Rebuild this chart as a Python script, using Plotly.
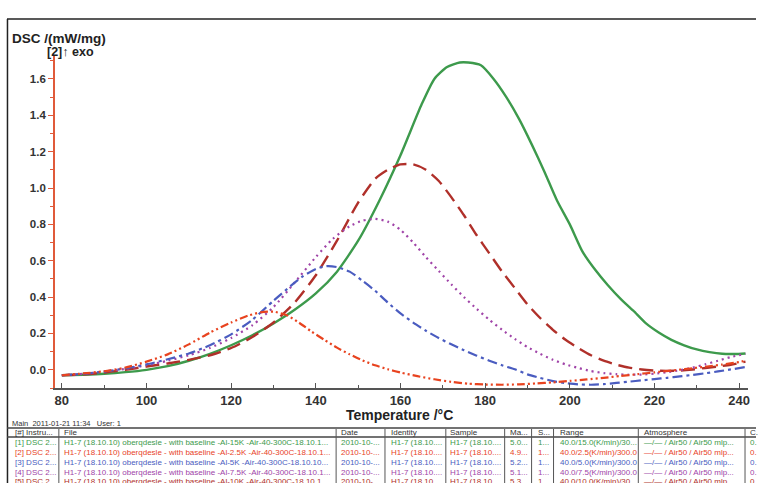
import plotly.graph_objects as go

# ---- data ----
t_15k = [80, 85, 90, 95, 100, 105, 110, 115, 120, 125, 130, 135, 140, 145, 150, 155, 160, 165, 168, 171, 174, 176, 179, 182, 185, 188, 191, 194, 197, 200, 203, 206, 209, 212, 215, 218, 221, 224, 227, 230, 233, 236, 239, 241.5]
v_15k = [-0.03, -0.027, -0.022, -0.013, 0.0, 0.02, 0.05, 0.088, 0.135, 0.19, 0.255, 0.33, 0.42, 0.54, 0.71, 0.93, 1.18, 1.46, 1.60, 1.665, 1.69, 1.69, 1.675, 1.60, 1.50, 1.38, 1.24, 1.09, 0.93, 0.80, 0.65, 0.55, 0.465, 0.39, 0.325, 0.255, 0.205, 0.165, 0.135, 0.112, 0.097, 0.088, 0.087, 0.09]

t_10k = [80, 85, 90, 95, 100, 105, 110, 115, 120, 125, 130, 135, 140, 145, 150, 154, 157, 160, 163, 166, 169, 172, 175, 178, 181, 184, 187, 190, 193, 196, 199, 202, 205, 208, 211, 214, 217, 220, 223, 226, 229, 232, 235, 238, 241.5]
v_10k = [-0.03, -0.025, -0.015, 0.0, 0.018, 0.035, 0.055, 0.08, 0.12, 0.18, 0.26, 0.37, 0.52, 0.71, 0.92, 1.05, 1.10, 1.13, 1.13, 1.10, 1.04, 0.95, 0.85, 0.74, 0.64, 0.54, 0.45, 0.36, 0.285, 0.22, 0.165, 0.12, 0.08, 0.05, 0.028, 0.012, 0.002, -0.004, -0.006, -0.004, 0.002, 0.01, 0.018, 0.028, 0.045]

t_75k = [80, 85, 90, 95, 100, 105, 110, 115, 120, 125, 130, 135, 140, 144, 148, 151, 154, 157, 160, 163, 166, 169, 172, 175, 178, 181, 184, 187, 190, 193, 196, 199, 202, 205, 208, 211, 214, 217, 220, 223, 226, 229, 232, 235, 238, 241.5]
v_75k = [-0.03, -0.022, -0.01, 0.005, 0.025, 0.05, 0.08, 0.12, 0.175, 0.245, 0.345, 0.48, 0.62, 0.72, 0.79, 0.82, 0.83, 0.815, 0.77, 0.70, 0.62, 0.545, 0.47, 0.40, 0.335, 0.275, 0.22, 0.17, 0.125, 0.088, 0.055, 0.03, 0.01, -0.007, -0.018, -0.024, -0.027, -0.026, -0.021, -0.013, -0.002, 0.012, 0.03, 0.05, 0.07, 0.088]

t_5k = [80, 85, 90, 95, 100, 105, 110, 115, 120, 125, 130, 134, 137, 140, 142.5, 145, 148, 151, 154, 157, 160, 163, 166, 169, 172, 175, 178, 181, 184, 187, 190, 193, 196, 199, 202, 205, 208, 211, 214, 217, 220, 223, 226, 229, 232, 235, 238, 241.5]
v_5k = [-0.03, -0.022, -0.01, 0.008, 0.03, 0.058, 0.09, 0.135, 0.195, 0.275, 0.38, 0.46, 0.515, 0.555, 0.57, 0.565, 0.54, 0.49, 0.435, 0.37, 0.31, 0.26, 0.215, 0.175, 0.14, 0.108, 0.078, 0.05, 0.025, 0.003, -0.025, -0.045, -0.062, -0.073, -0.08, -0.082, -0.079, -0.072, -0.065, -0.058, -0.051, -0.044, -0.036, -0.028, -0.019, -0.009, 0.002, 0.015]

t_25k = [80, 85, 90, 95, 100, 105, 110, 115, 120, 124, 127, 130, 133, 136, 139, 142, 145, 148, 151, 154, 157, 160, 164, 168, 172, 176, 180, 184, 188, 192, 196, 200, 204, 208, 212, 216, 220, 224, 228, 232, 236, 240, 241.5]
v_25k = [-0.03, -0.02, -0.008, 0.012, 0.045, 0.085, 0.14, 0.205, 0.26, 0.298, 0.316, 0.32, 0.302, 0.26, 0.21, 0.165, 0.122, 0.085, 0.052, 0.025, 0.003, -0.015, -0.035, -0.052, -0.066, -0.076, -0.081, -0.082, -0.08, -0.075, -0.069, -0.061, -0.053, -0.044, -0.034, -0.024, -0.014, -0.004, 0.006, 0.017, 0.029, 0.043, 0.05]

x_ticks = [80, 100, 120, 140, 160, 180, 200, 220, 240]
y_ticks = [0.0, 0.2, 0.4, 0.6, 0.8, 1.0, 1.2, 1.4, 1.6]

table_header = ["[#] Instru...", "File", "Date", "Identity", "Sample", "Ma...", "S...", "Range", "Atmosphere", "C."]
table_rows = [
    ["[1] DSC 2...", "H1-7 (18.10.10) oberqdesle - with baseline -Al-15K -Air-40-300C-18.10.1...", "2010-10-...", "H1-7 (18.10....", "H1-7 (18.10....", "5.0...", "1...", "40.0/15.0(K/min)/30...", "—/— / Air50 / Air50 mlp...", "0."],
    ["[2] DSC 2...", "H1-7 (18.10.10) oberqdesle - with baseline -Al-2.5K -Air-40-300C-18.10.1...", "2010-10-...", "H1-7 (18.10....", "H1-7 (18.10....", "4.9...", "1...", "40.0/2.5(K/min)/300.0", "—/— / Air50 / Air50 mlp...", "0."],
    ["[3] DSC 2...", "H1-7 (18.10.10) oberqdesle - with baseline -Al-5K -Air-40-300C-18.10.10...", "2010-10-...", "H1-7 (18.10....", "H1-7 (18.10....", "5.2...", "1...", "40.0/5.0(K/min)/300.0", "—/— / Air50 / Air50 mlp...", "0."],
    ["[4] DSC 2...", "H1-7 (18.10.10) oberqdesle - with baseline -Al-7.5K -Air-40-300C-18.10.1...", "2010-10-...", "H1-7 (18.10....", "H1-7 (18.10....", "5.1...", "1...", "40.0/7.5(K/min)/300.0", "—/— / Air50 / Air50 mlp...", "0."],
    ["[5] DSC 2...", "H1-7 (18.10.10) oberqdesle - with baseline -Al-10K -Air-40-300C-18.10.1...", "2010-10-...", "H1-7 (18.10....", "H1-7 (18.10....", "5.3...", "1...", "40.0/10.0(K/min)/30...", "—/— / Air50 / Air50 mlp...", "0."],
]

# ---- styling ----
C_GREEN = "#3d9a4c"
C_DRED = "#b0302a"
C_PURPLE = "#a044a8"
C_BLUE = "#4a5cc0"
C_ORANGE = "#e8431f"
row_colors = [C_GREEN, C_ORANGE, C_BLUE, C_PURPLE, C_DRED]
col_x = [13, 62, 340, 390, 449, 509, 537, 559, 644, 750]
col_sep = [59, 337, 386, 447, 506, 533, 555, 640, 747]

FW, FH = 758, 483
PL, PR, PT, PB = 55, 750, 56, 388   # plot area in pixels


def px(x):
    return x / FW


def py(y):
    return (FH - y) / FH


FONT = "Liberation Sans Narrow, Arial Narrow, Liberation Sans, Arial"

fig = go.Figure()
series = [
    (t_15k, v_15k, C_GREEN, "solid", 2.4),
    (t_10k, v_10k, C_DRED, "14px,7px", 2.4),
    (t_75k, v_75k, C_PURPLE, "2px,4px", 2.2),
    (t_5k, v_5k, C_BLUE, "10px,4px,3px,4px", 2.2),
    (t_25k, v_25k, C_ORANGE, "8px,3px,2px,3px,2px,3px", 2.2),
]
for t, v, c, d, w in series:
    fig.add_trace(go.Scatter(x=t, y=v, mode="lines",
                             line=dict(color=c, dash=d, width=w, shape="spline", smoothing=0.6),
                             showlegend=False, hoverinfo="skip"))

fig.update_layout(
    width=FW, height=FH,
    margin=dict(l=0, r=0, t=0, b=0),
    paper_bgcolor="white", plot_bgcolor="white",
    font=dict(family=FONT, color="#333333"),
    xaxis=dict(domain=[px(PL), px(PR)], range=[78.35, 242.1], tickvals=x_ticks, ticks="inside", ticklen=5,
               tickcolor="#555555", showline=True, linecolor="#555555", linewidth=1.5,
               showgrid=False, zeroline=False,
               tickfont=dict(size=13, family=FONT, color="#333333", weight="bold"),
               minor=dict(dtick=10, ticks="inside", ticklen=3, tickcolor="#555555")),
    yaxis=dict(domain=[py(PB), py(PT)], range=[-0.1, 1.726], tickvals=y_ticks, tickformat=".1f",
               ticks="outside", ticklen=5, tickcolor="#e05a3a", showline=True, linecolor="#e05a3a",
               linewidth=1.5, showgrid=False, zeroline=False,
               tickfont=dict(size=11.5, family=FONT, color="#333333", weight="bold"),
               minor=dict(dtick=0.1, ticks="outside", ticklen=3, tickcolor="#e05a3a")),
)

ann = []
shapes = []
# outer frame (top and left edges)
shapes.append(dict(type="line", xref="paper", yref="paper", x0=px(7), x1=px(758), y0=py(19), y1=py(19),
                   line=dict(color="#222222", width=1.5)))
shapes.append(dict(type="line", xref="paper", yref="paper", x0=px(7.5), x1=px(7.5), y0=py(19), y1=py(483),
                   line=dict(color="#222222", width=1.5)))
# axis titles
ann.append(dict(x=px(10), y=py(38), xref="paper", yref="paper", xanchor="left", yanchor="middle",
                text="<b>DSC /(mW/mg)</b>", showarrow=False, font=dict(size=13.5, family=FONT, color="#222")))
ann.append(dict(x=px(45), y=py(52), xref="paper", yref="paper", xanchor="left", yanchor="middle",
                text="<b>[2]↑ exo</b>", showarrow=False, font=dict(size=12.5, family=FONT, color="#222")))
ann.append(dict(x=px(401), y=py(415), xref="paper", yref="paper", xanchor="center", yanchor="middle",
                text="<b>Temperature /°C</b>", showarrow=False, font=dict(size=14, family=FONT, color="#222")))

# table
ann.append(dict(x=px(10), y=py(423), xref="paper", yref="paper", xanchor="left", yanchor="middle",
                text="Main  2011-01-21 11:34   User: 1", showarrow=False,
                font=dict(size=7.5, family=FONT, color="#333")))
shapes.append(dict(type="line", xref="paper", yref="paper", x0=px(7), x1=px(758), y0=py(428), y1=py(428),
                   line=dict(color="#444", width=1.5)))
shapes.append(dict(type="line", xref="paper", yref="paper", x0=px(7), x1=px(758), y0=py(437), y1=py(437),
                   line=dict(color="#444", width=1.5)))
for sx in col_sep:
    shapes.append(dict(type="line", xref="paper", yref="paper", x0=px(sx), x1=px(sx), y0=py(429), y1=py(483),
                       line=dict(color="#555", width=1)))
for hx, htxt in zip(col_x, table_header):
    ann.append(dict(x=px(hx), y=py(432.5), xref="paper", yref="paper", xanchor="left", yanchor="middle",
                    text=htxt, showarrow=False, font=dict(size=8, family=FONT, color="#333")))
row_y = [442, 452, 462, 472, 481]
for ry, row, rc in zip(row_y, table_rows, row_colors):
    for hx, cell in zip(col_x, row):
        ann.append(dict(x=px(hx), y=py(ry), xref="paper", yref="paper", xanchor="left", yanchor="middle",
                        text=cell, showarrow=False, font=dict(size=8, family=FONT, color=rc)))

fig.update_layout(annotations=ann, shapes=shapes)
fig.write_html("out.html")
